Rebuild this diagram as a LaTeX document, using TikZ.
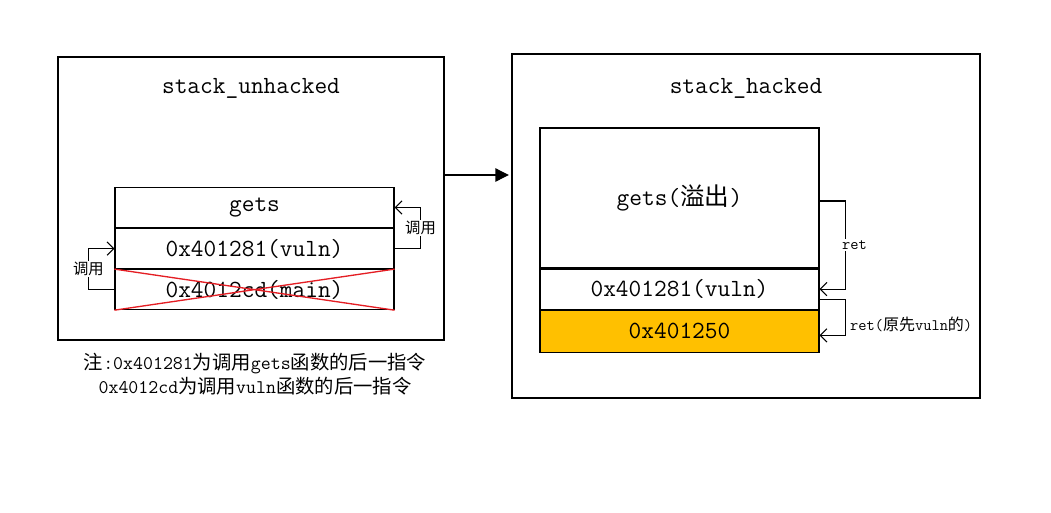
\documentclass[tikz,border=0pt]{standalone}
\usepackage{fontspec}
\newfontfamily\cjk{Noto Sans CJK SC}
\usetikzlibrary{arrows.meta,positioning,calc}
\definecolor{overflow}{RGB}{255,192,0}
\definecolor{crossred}{RGB}{228,30,36}

\tikzset{
  frame/.style={draw, line width=0.8pt, inner sep=0pt},
  cell/.style={draw, line width=0.8pt, minimum width=209.25pt, minimum height=30pt,
    inner sep=0pt, font=\ttfamily\fontsize{18.5}{22}\selectfont},
  title/.style={font=\ttfamily\fontsize{18.5}{22}\selectfont},
  call/.style={line width=0.8pt, -{Straight Barb[length=5pt,width=10pt]}},
  calllbl/.style={fill=white, inner sep=1pt, font=\cjk\fontsize{11.5}{14}\selectfont},
  retlbl/.style={inner sep=1pt, font=\ttfamily\fontsize{12}{14}\selectfont},
  note/.style={align=center, font=\ttfamily\fontsize{14.5}{18}\selectfont},
}

\begin{document}
\begin{tikzpicture}[x=0.75pt,y=-0.75pt]
\useasboundingbox (0,0) rectangle (1051,512);
% stack before
\node[frame, minimum width=289.5pt, minimum height=212.25pt] (unhacked) at (251,198.5) {};
\node[title] (unhackedtitle) at (251,88) {stack\_unhacked};
\node[cell] (gets1) at (254.5,207.5) {gets};
\node[cell, below=0pt of gets1] (vuln1) {0x401281(vuln)};
\node[cell, below=0pt of vuln1] (main1) {0x4012cd(main)};
\draw[crossred, line width=1pt] (main1.north west) -- (main1.south east)
  (main1.south west) -- (main1.north east);
\draw[call] (vuln1.east) -- ++(26,0) |- node[calllbl, pos=0.25] {调用} (gets1.east);
\draw[call] (main1.west) -- ++(-26,0) |- node[calllbl, pos=0.25] {调用} (vuln1.west);
\node[note] (remark) at (255,374) {{\cjk 注}:0x401281{\cjk 为调用}gets{\cjk 函数的后一指令}\\
  0x4012cd{\cjk 为调用}vuln{\cjk 函数的后一指令}};
% stack after
\node[frame, minimum width=351pt, minimum height=258pt] (hacked) at (746,226) {};
\node[title] (hackedtitle) at (746,88) {stack\_hacked};
\node[cell, minimum height=105pt] (gets2) at (679.5,198) {gets({\cjk 溢出})};
\node[cell, below=0pt of gets2] (vuln2) {0x401281(vuln)};
\node[cell, fill=overflow, minimum height=31.5pt, below=0pt of vuln2] (ret2) {0x401250};
\draw[call] ([yshift=-2.25pt]gets2.east) -- ++(26,0)
  |- node[retlbl, fill=white, pos=0.25, xshift=6.75pt] {ret} (vuln2.east);
\draw[call] ($(vuln2.east)!0.5!(vuln2.south east)$) -- ++(26,0)
  |- node[retlbl, pos=0.35, anchor=west, xshift=2pt] {ret({\cjk 原先}vuln{\cjk 的})}
  ($(ret2.east)!0.2!(ret2.south east)$);
% arrow between
\coordinate (arrowy) at (478,175);
\draw[line width=0.8pt, -{Triangle[length=10pt,width=10pt]}]
  (unhacked.east |- arrowy) -- ([xshift=-2pt]hacked.west |- arrowy);
\end{tikzpicture}
\end{document}
